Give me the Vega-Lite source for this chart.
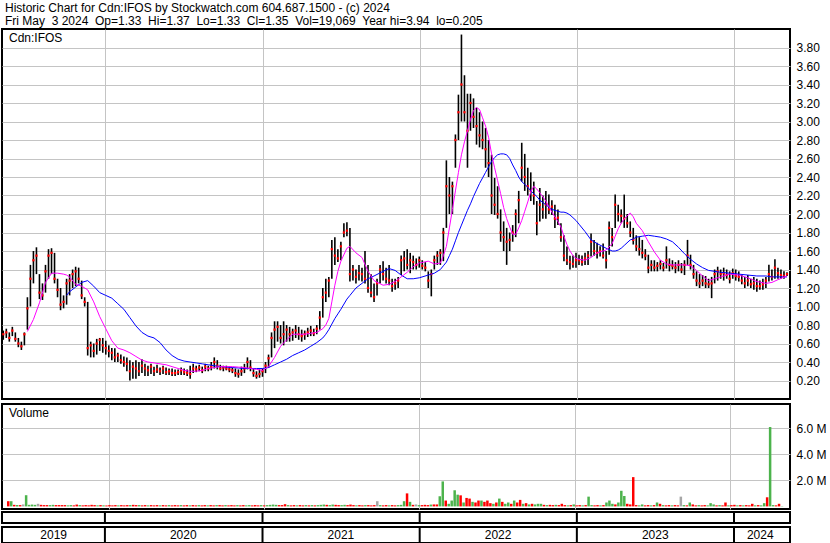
{
"$schema": "https://vega.github.io/schema/vega-lite/v6.json",
"background": "white",
"padding": {"left": 1, "top": 2, "right": 0, "bottom": 0},
"spacing": 3,
"title": {"text": "Historic Chart for Cdn:IFOS by Stockwatch.com 604.687.1500 - (c) 2024", "subtitle": "Fri May\u00a0\u00a03 2024\u00a0\u00a0Op=1.33\u00a0\u00a0Hi=1.37\u00a0\u00a0Lo=1.33\u00a0\u00a0Cl=1.35\u00a0\u00a0Vol=19,069\u00a0\u00a0Year hi=3.94\u00a0\u00a0lo=0.205", "anchor": "start", "frame": "group", "offset": 0, "dx": 3, "subtitlePadding": 1},
"datasets": {
"w": [
{"d":"2019-05-10","h":0.74,"l":0.64,"c":0.70,"v":0.4,"s":"d"},
{"d":"2019-05-17","h":0.76,"l":0.66,"c":0.72,"v":0.4,"s":"u"},
{"d":"2019-05-24","h":0.72,"l":0.62,"c":0.66,"v":0.12,"s":"d"},
{"d":"2019-05-31","h":0.78,"l":0.68,"c":0.74,"v":0.1,"s":"u"},
{"d":"2019-06-07","h":0.72,"l":0.62,"c":0.65,"v":0.1,"s":"d"},
{"d":"2019-06-14","h":0.66,"l":0.56,"c":0.60,"v":0.15,"s":"n"},
{"d":"2019-06-21","h":0.62,"l":0.53,"c":0.57,"v":0.86,"s":"u"},
{"d":"2019-06-28","h":0.72,"l":0.58,"c":0.70,"v":0.12,"s":"u"},
{"d":"2019-07-05","h":1.10,"l":0.75,"c":0.98,"v":0.14,"s":"u"},
{"d":"2019-07-12","h":1.45,"l":1.00,"c":1.30,"v":0.12,"s":"u"},
{"d":"2019-07-19","h":1.60,"l":1.25,"c":1.50,"v":0.2,"s":"n"},
{"d":"2019-07-26","h":1.64,"l":1.35,"c":1.55,"v":0.12,"s":"d"},
{"d":"2019-08-02","h":1.35,"l":1.08,"c":1.15,"v":0.1,"s":"d"},
{"d":"2019-08-09","h":1.25,"l":1.07,"c":1.12,"v":0.1,"s":"d"},
{"d":"2019-08-16","h":1.45,"l":1.15,"c":1.38,"v":0.1,"s":"u"},
{"d":"2019-08-23","h":1.62,"l":1.30,"c":1.55,"v":0.12,"s":"u"},
{"d":"2019-08-30","h":1.63,"l":1.35,"c":1.58,"v":0.1,"s":"d"},
{"d":"2019-09-06","h":1.58,"l":1.25,"c":1.30,"v":0.1,"s":"d"},
{"d":"2019-09-13","h":1.30,"l":1.10,"c":1.18,"v":0.1,"s":"d"},
{"d":"2019-09-20","h":1.20,"l":0.96,"c":1.02,"v":0.1,"s":"d"},
{"d":"2019-09-27","h":1.12,"l":0.98,"c":1.05,"v":0.08,"s":"u"},
{"d":"2019-10-04","h":1.30,"l":1.02,"c":1.25,"v":0.1,"s":"u"},
{"d":"2019-10-11","h":1.35,"l":1.12,"c":1.28,"v":0.08,"s":"d"},
{"d":"2019-10-18","h":1.40,"l":1.20,"c":1.35,"v":0.14,"s":"d"},
{"d":"2019-10-25","h":1.43,"l":1.22,"c":1.38,"v":0.1,"s":"u"},
{"d":"2019-11-01","h":1.42,"l":1.25,"c":1.30,"v":0.08,"s":"d"},
{"d":"2019-11-08","h":1.28,"l":1.08,"c":1.12,"v":0.1,"s":"d"},
{"d":"2019-11-15","h":1.10,"l":1.00,"c":1.05,"v":0.08,"s":"d"},
{"d":"2019-11-22","h":1.05,"l":0.47,"c":0.55,"v":0.12,"s":"d"},
{"d":"2019-11-29","h":0.62,"l":0.45,"c":0.58,"v":0.1,"s":"d"},
{"d":"2019-12-06","h":0.60,"l":0.45,"c":0.52,"v":0.08,"s":"u"},
{"d":"2019-12-13","h":0.65,"l":0.48,"c":0.60,"v":0.1,"s":"d"},
{"d":"2019-12-20","h":0.66,"l":0.52,"c":0.64,"v":0.08,"s":"u"},
{"d":"2019-12-27","h":0.66,"l":0.50,"c":0.58,"v":0.07,"s":"d"},
{"d":"2020-01-03","h":0.63,"l":0.48,"c":0.55,"v":0.1,"s":"d"},
{"d":"2020-01-10","h":0.58,"l":0.45,"c":0.52,"v":0.08,"s":"d"},
{"d":"2020-01-17","h":0.55,"l":0.42,"c":0.50,"v":0.1,"s":"d"},
{"d":"2020-01-24","h":0.55,"l":0.40,"c":0.45,"v":0.08,"s":"u"},
{"d":"2020-01-31","h":0.50,"l":0.40,"c":0.47,"v":0.1,"s":"d"},
{"d":"2020-02-07","h":0.48,"l":0.38,"c":0.42,"v":0.08,"s":"d"},
{"d":"2020-02-14","h":0.46,"l":0.35,"c":0.40,"v":0.1,"s":"d"},
{"d":"2020-02-21","h":0.45,"l":0.30,"c":0.38,"v":0.1,"s":"u"},
{"d":"2020-02-28","h":0.42,"l":0.20,"c":0.30,"v":0.12,"s":"d"},
{"d":"2020-03-06","h":0.40,"l":0.22,"c":0.35,"v":0.1,"s":"d"},
{"d":"2020-03-13","h":0.42,"l":0.22,"c":0.33,"v":0.1,"s":"u"},
{"d":"2020-03-20","h":0.40,"l":0.25,"c":0.30,"v":0.08,"s":"d"},
{"d":"2020-03-27","h":0.43,"l":0.28,"c":0.36,"v":0.1,"s":"d"},
{"d":"2020-04-03","h":0.38,"l":0.25,"c":0.33,"v":0.08,"s":"u"},
{"d":"2020-04-10","h":0.36,"l":0.25,"c":0.31,"v":0.1,"s":"d"},
{"d":"2020-04-17","h":0.38,"l":0.27,"c":0.35,"v":0.08,"s":"d"},
{"d":"2020-04-24","h":0.35,"l":0.25,"c":0.30,"v":0.1,"s":"d"},
{"d":"2020-05-01","h":0.37,"l":0.28,"c":0.32,"v":0.08,"s":"u"},
{"d":"2020-05-08","h":0.34,"l":0.26,"c":0.30,"v":0.1,"s":"d"},
{"d":"2020-05-15","h":0.36,"l":0.27,"c":0.33,"v":0.08,"s":"d"},
{"d":"2020-05-22","h":0.34,"l":0.26,"c":0.29,"v":0.1,"s":"u"},
{"d":"2020-05-29","h":0.33,"l":0.26,"c":0.30,"v":0.08,"s":"d"},
{"d":"2020-06-05","h":0.33,"l":0.25,"c":0.28,"v":0.1,"s":"d"},
{"d":"2020-06-12","h":0.32,"l":0.25,"c":0.28,"v":0.08,"s":"d"},
{"d":"2020-06-19","h":0.32,"l":0.26,"c":0.29,"v":0.1,"s":"u"},
{"d":"2020-06-26","h":0.34,"l":0.26,"c":0.31,"v":0.08,"s":"d"},
{"d":"2020-07-03","h":0.33,"l":0.26,"c":0.29,"v":0.1,"s":"d"},
{"d":"2020-07-10","h":0.32,"l":0.25,"c":0.28,"v":0.08,"s":"u"},
{"d":"2020-07-17","h":0.36,"l":0.22,"c":0.27,"v":0.1,"s":"d"},
{"d":"2020-07-24","h":0.38,"l":0.28,"c":0.33,"v":0.08,"s":"d"},
{"d":"2020-07-31","h":0.36,"l":0.29,"c":0.32,"v":0.1,"s":"u"},
{"d":"2020-08-07","h":0.37,"l":0.30,"c":0.34,"v":0.08,"s":"d"},
{"d":"2020-08-14","h":0.35,"l":0.28,"c":0.31,"v":0.1,"s":"d"},
{"d":"2020-08-21","h":0.38,"l":0.30,"c":0.35,"v":0.08,"s":"u"},
{"d":"2020-08-28","h":0.36,"l":0.30,"c":0.33,"v":0.1,"s":"d"},
{"d":"2020-09-04","h":0.40,"l":0.31,"c":0.35,"v":0.08,"s":"d"},
{"d":"2020-09-11","h":0.45,"l":0.33,"c":0.40,"v":0.1,"s":"u"},
{"d":"2020-09-18","h":0.42,"l":0.32,"c":0.36,"v":0.1,"s":"d"},
{"d":"2020-09-25","h":0.37,"l":0.31,"c":0.33,"v":0.08,"s":"d"},
{"d":"2020-10-02","h":0.36,"l":0.30,"c":0.34,"v":0.1,"s":"u"},
{"d":"2020-10-09","h":0.36,"l":0.31,"c":0.33,"v":0.08,"s":"d"},
{"d":"2020-10-16","h":0.35,"l":0.29,"c":0.32,"v":0.1,"s":"d"},
{"d":"2020-10-23","h":0.34,"l":0.28,"c":0.31,"v":0.08,"s":"d"},
{"d":"2020-10-30","h":0.33,"l":0.24,"c":0.28,"v":0.1,"s":"u"},
{"d":"2020-11-06","h":0.32,"l":0.23,"c":0.27,"v":0.08,"s":"d"},
{"d":"2020-11-13","h":0.35,"l":0.25,"c":0.30,"v":0.1,"s":"d"},
{"d":"2020-11-20","h":0.38,"l":0.28,"c":0.33,"v":0.08,"s":"u"},
{"d":"2020-11-27","h":0.45,"l":0.32,"c":0.40,"v":0.1,"s":"u"},
{"d":"2020-12-04","h":0.42,"l":0.30,"c":0.34,"v":0.08,"s":"d"},
{"d":"2020-12-11","h":0.33,"l":0.24,"c":0.28,"v":0.1,"s":"d"},
{"d":"2020-12-18","h":0.30,"l":0.22,"c":0.25,"v":0.08,"s":"d"},
{"d":"2020-12-25","h":0.32,"l":0.23,"c":0.27,"v":0.1,"s":"u"},
{"d":"2021-01-01","h":0.33,"l":0.24,"c":0.30,"v":0.08,"s":"d"},
{"d":"2021-01-08","h":0.40,"l":0.28,"c":0.36,"v":0.1,"s":"u"},
{"d":"2021-01-15","h":0.48,"l":0.34,"c":0.44,"v":0.12,"s":"u"},
{"d":"2021-01-22","h":0.72,"l":0.45,"c":0.66,"v":0.14,"s":"u"},
{"d":"2021-01-29","h":0.84,"l":0.55,"c":0.75,"v":0.12,"s":"u"},
{"d":"2021-02-05","h":0.84,"l":0.62,"c":0.78,"v":0.1,"s":"d"},
{"d":"2021-02-12","h":0.80,"l":0.60,"c":0.66,"v":0.1,"s":"d"},
{"d":"2021-02-19","h":0.84,"l":0.58,"c":0.70,"v":0.17,"s":"d"},
{"d":"2021-02-26","h":0.80,"l":0.62,"c":0.75,"v":0.1,"s":"u"},
{"d":"2021-03-05","h":0.78,"l":0.62,"c":0.70,"v":0.08,"s":"d"},
{"d":"2021-03-12","h":0.76,"l":0.63,"c":0.72,"v":0.1,"s":"d"},
{"d":"2021-03-19","h":0.80,"l":0.66,"c":0.74,"v":0.08,"s":"u"},
{"d":"2021-03-26","h":0.78,"l":0.64,"c":0.70,"v":0.1,"s":"d"},
{"d":"2021-04-02","h":0.75,"l":0.62,"c":0.68,"v":0.08,"s":"d"},
{"d":"2021-04-09","h":0.74,"l":0.64,"c":0.70,"v":0.1,"s":"u"},
{"d":"2021-04-16","h":0.77,"l":0.67,"c":0.72,"v":0.08,"s":"d"},
{"d":"2021-04-23","h":0.79,"l":0.68,"c":0.74,"v":0.1,"s":"u"},
{"d":"2021-04-30","h":0.76,"l":0.68,"c":0.71,"v":0.08,"s":"d"},
{"d":"2021-05-07","h":0.80,"l":0.70,"c":0.76,"v":0.1,"s":"u"},
{"d":"2021-05-14","h":0.95,"l":0.75,"c":0.88,"v":0.12,"s":"u"},
{"d":"2021-05-21","h":1.20,"l":0.88,"c":1.10,"v":0.14,"s":"u"},
{"d":"2021-05-28","h":1.30,"l":1.05,"c":1.15,"v":0.12,"s":"d"},
{"d":"2021-06-04","h":1.32,"l":1.10,"c":1.28,"v":0.1,"s":"u"},
{"d":"2021-06-11","h":1.72,"l":1.30,"c":1.62,"v":0.14,"s":"u"},
{"d":"2021-06-18","h":1.75,"l":1.45,"c":1.55,"v":0.12,"s":"d"},
{"d":"2021-06-25","h":1.62,"l":1.48,"c":1.52,"v":0.1,"s":"d"},
{"d":"2021-07-02","h":1.70,"l":1.50,"c":1.65,"v":0.1,"s":"u"},
{"d":"2021-07-09","h":1.90,"l":1.75,"c":1.80,"v":0.12,"s":"u"},
{"d":"2021-07-16","h":1.91,"l":1.76,"c":1.82,"v":0.1,"s":"d"},
{"d":"2021-07-23","h":1.85,"l":1.27,"c":1.35,"v":0.14,"s":"d"},
{"d":"2021-07-30","h":1.45,"l":1.28,"c":1.40,"v":0.1,"s":"d"},
{"d":"2021-08-06","h":1.40,"l":1.25,"c":1.32,"v":0.08,"s":"u"},
{"d":"2021-08-13","h":1.45,"l":1.28,"c":1.36,"v":0.1,"s":"d"},
{"d":"2021-08-20","h":1.42,"l":1.27,"c":1.35,"v":0.08,"s":"d"},
{"d":"2021-08-27","h":1.60,"l":1.25,"c":1.30,"v":0.1,"s":"u"},
{"d":"2021-09-03","h":1.45,"l":1.15,"c":1.20,"v":0.1,"s":"d"},
{"d":"2021-09-10","h":1.35,"l":1.10,"c":1.15,"v":0.08,"s":"d"},
{"d":"2021-09-17","h":1.25,"l":1.05,"c":1.10,"v":0.1,"s":"d"},
{"d":"2021-09-24","h":1.30,"l":1.12,"c":1.25,"v":0.4,"s":"n"},
{"d":"2021-10-01","h":1.45,"l":1.25,"c":1.40,"v":0.1,"s":"u"},
{"d":"2021-10-08","h":1.49,"l":1.28,"c":1.35,"v":0.08,"s":"d"},
{"d":"2021-10-15","h":1.42,"l":1.25,"c":1.30,"v":0.1,"s":"d"},
{"d":"2021-10-22","h":1.45,"l":1.23,"c":1.28,"v":0.08,"s":"u"},
{"d":"2021-10-29","h":1.30,"l":1.16,"c":1.22,"v":0.1,"s":"d"},
{"d":"2021-11-05","h":1.30,"l":1.18,"c":1.25,"v":0.08,"s":"d"},
{"d":"2021-11-12","h":1.32,"l":1.20,"c":1.28,"v":0.1,"s":"u"},
{"d":"2021-11-19","h":1.55,"l":1.34,"c":1.50,"v":0.12,"s":"u"},
{"d":"2021-11-26","h":1.60,"l":1.38,"c":1.52,"v":0.4,"s":"u"},
{"d":"2021-12-03","h":1.62,"l":1.40,"c":1.45,"v":1.0,"s":"d"},
{"d":"2021-12-10","h":1.58,"l":1.36,"c":1.50,"v":0.35,"s":"u"},
{"d":"2021-12-17","h":1.55,"l":1.40,"c":1.48,"v":0.12,"s":"d"},
{"d":"2021-12-24","h":1.52,"l":1.40,"c":1.45,"v":0.15,"s":"n"},
{"d":"2021-12-31","h":1.54,"l":1.42,"c":1.50,"v":0.1,"s":"u"},
{"d":"2022-01-07","h":1.50,"l":1.40,"c":1.44,"v":0.1,"s":"d"},
{"d":"2022-01-14","h":1.48,"l":1.38,"c":1.42,"v":0.12,"s":"d"},
{"d":"2022-01-21","h":1.38,"l":1.20,"c":1.28,"v":0.1,"s":"d"},
{"d":"2022-01-28","h":1.40,"l":1.11,"c":1.35,"v":0.14,"s":"u"},
{"d":"2022-02-04","h":1.55,"l":1.40,"c":1.50,"v":0.15,"s":"d"},
{"d":"2022-02-11","h":1.60,"l":1.45,"c":1.55,"v":0.15,"s":"d"},
{"d":"2022-02-18","h":1.62,"l":1.45,"c":1.58,"v":0.78,"s":"u"},
{"d":"2022-02-25","h":1.85,"l":1.49,"c":1.80,"v":1.92,"s":"u"},
{"d":"2022-03-04","h":2.58,"l":1.85,"c":2.30,"v":0.45,"s":"d"},
{"d":"2022-03-11","h":2.40,"l":2.00,"c":2.20,"v":0.2,"s":"u"},
{"d":"2022-03-18","h":2.35,"l":2.00,"c":2.30,"v":0.45,"s":"u"},
{"d":"2022-03-25","h":2.86,"l":2.50,"c":2.80,"v":1.24,"s":"u"},
{"d":"2022-04-01","h":3.29,"l":2.80,"c":3.10,"v":0.9,"s":"u"},
{"d":"2022-04-08","h":3.94,"l":3.00,"c":3.40,"v":0.85,"s":"d"},
{"d":"2022-04-15","h":3.50,"l":3.00,"c":3.10,"v":0.3,"s":"u"},
{"d":"2022-04-22","h":3.30,"l":2.50,"c":2.90,"v":0.65,"s":"d"},
{"d":"2022-04-29","h":3.30,"l":2.90,"c":3.20,"v":0.6,"s":"d"},
{"d":"2022-05-06","h":3.25,"l":2.93,"c":3.05,"v":0.35,"s":"u"},
{"d":"2022-05-13","h":3.15,"l":2.75,"c":2.95,"v":0.3,"s":"d"},
{"d":"2022-05-20","h":3.10,"l":2.72,"c":2.85,"v":0.45,"s":"d"},
{"d":"2022-05-27","h":3.00,"l":2.70,"c":2.80,"v":0.45,"s":"u"},
{"d":"2022-06-03","h":2.93,"l":2.50,"c":2.70,"v":0.35,"s":"d"},
{"d":"2022-06-10","h":2.80,"l":2.40,"c":2.55,"v":0.45,"s":"d"},
{"d":"2022-06-17","h":2.64,"l":2.00,"c":2.20,"v":0.25,"s":"d"},
{"d":"2022-06-24","h":2.39,"l":1.99,"c":2.10,"v":0.2,"s":"u"},
{"d":"2022-07-01","h":2.30,"l":1.95,"c":2.00,"v":0.3,"s":"d"},
{"d":"2022-07-08","h":2.05,"l":1.70,"c":1.80,"v":0.6,"s":"u"},
{"d":"2022-07-15","h":1.92,"l":1.60,"c":1.75,"v":0.35,"s":"d"},
{"d":"2022-07-22","h":1.85,"l":1.45,"c":1.70,"v":0.2,"s":"u"},
{"d":"2022-07-29","h":1.80,"l":1.60,"c":1.72,"v":0.3,"s":"u"},
{"d":"2022-08-05","h":1.88,"l":1.70,"c":1.80,"v":0.2,"s":"d"},
{"d":"2022-08-12","h":2.05,"l":1.75,"c":2.00,"v":0.45,"s":"u"},
{"d":"2022-08-19","h":2.25,"l":1.90,"c":2.15,"v":0.3,"s":"d"},
{"d":"2022-08-26","h":2.77,"l":2.35,"c":2.50,"v":0.5,"s":"d"},
{"d":"2022-09-02","h":2.65,"l":2.25,"c":2.40,"v":0.2,"s":"u"},
{"d":"2022-09-09","h":2.50,"l":2.20,"c":2.30,"v":0.25,"s":"d"},
{"d":"2022-09-16","h":2.45,"l":2.14,"c":2.25,"v":0.15,"s":"u"},
{"d":"2022-09-23","h":2.35,"l":2.10,"c":2.20,"v":0.2,"s":"d"},
{"d":"2022-09-30","h":2.14,"l":1.77,"c":1.90,"v":0.15,"s":"u"},
{"d":"2022-10-07","h":2.28,"l":1.92,"c":2.10,"v":0.2,"s":"u"},
{"d":"2022-10-14","h":2.20,"l":1.95,"c":2.05,"v":0.2,"s":"u"},
{"d":"2022-10-21","h":2.25,"l":1.95,"c":2.10,"v":0.12,"s":"d"},
{"d":"2022-10-28","h":2.21,"l":2.00,"c":2.05,"v":0.1,"s":"u"},
{"d":"2022-11-04","h":2.15,"l":1.99,"c":2.08,"v":0.12,"s":"d"},
{"d":"2022-11-11","h":2.10,"l":1.85,"c":1.95,"v":0.1,"s":"d"},
{"d":"2022-11-18","h":2.05,"l":1.88,"c":1.96,"v":0.12,"s":"u"},
{"d":"2022-11-25","h":1.90,"l":1.70,"c":1.75,"v":0.1,"s":"d"},
{"d":"2022-12-02","h":1.77,"l":1.49,"c":1.55,"v":0.2,"s":"d"},
{"d":"2022-12-09","h":1.65,"l":1.45,"c":1.50,"v":0.1,"s":"d"},
{"d":"2022-12-16","h":1.55,"l":1.40,"c":1.48,"v":0.08,"s":"u"},
{"d":"2022-12-23","h":1.55,"l":1.42,"c":1.46,"v":0.1,"s":"d"},
{"d":"2022-12-30","h":1.58,"l":1.42,"c":1.50,"v":0.15,"s":"u"},
{"d":"2023-01-06","h":1.56,"l":1.45,"c":1.50,"v":0.08,"s":"d"},
{"d":"2023-01-13","h":1.55,"l":1.44,"c":1.48,"v":0.1,"s":"d"},
{"d":"2023-01-20","h":1.58,"l":1.45,"c":1.52,"v":0.08,"s":"u"},
{"d":"2023-01-27","h":1.60,"l":1.45,"c":1.55,"v":0.1,"s":"d"},
{"d":"2023-02-03","h":1.79,"l":1.54,"c":1.70,"v":0.75,"s":"u"},
{"d":"2023-02-10","h":1.72,"l":1.55,"c":1.60,"v":0.1,"s":"u"},
{"d":"2023-02-17","h":1.69,"l":1.52,"c":1.58,"v":0.08,"s":"d"},
{"d":"2023-02-24","h":1.65,"l":1.54,"c":1.60,"v":0.1,"s":"d"},
{"d":"2023-03-03","h":1.68,"l":1.52,"c":1.55,"v":0.08,"s":"u"},
{"d":"2023-03-10","h":1.60,"l":1.41,"c":1.50,"v":0.1,"s":"d"},
{"d":"2023-03-17","h":1.92,"l":1.56,"c":1.85,"v":0.3,"s":"u"},
{"d":"2023-03-24","h":1.85,"l":1.65,"c":1.75,"v":0.45,"s":"u"},
{"d":"2023-03-31","h":2.21,"l":1.85,"c":2.10,"v":0.2,"s":"u"},
{"d":"2023-04-07","h":2.10,"l":1.92,"c":2.00,"v":0.15,"s":"d"},
{"d":"2023-04-14","h":2.05,"l":1.90,"c":1.98,"v":0.3,"s":"u"},
{"d":"2023-04-21","h":2.21,"l":1.85,"c":1.95,"v":1.2,"s":"u"},
{"d":"2023-04-28","h":2.00,"l":1.85,"c":1.90,"v":0.8,"s":"u"},
{"d":"2023-05-05","h":1.92,"l":1.75,"c":1.80,"v":0.2,"s":"d"},
{"d":"2023-05-12","h":1.85,"l":1.67,"c":1.72,"v":0.15,"s":"d"},
{"d":"2023-05-19","h":1.77,"l":1.60,"c":1.65,"v":2.25,"s":"d"},
{"d":"2023-05-26","h":1.75,"l":1.55,"c":1.62,"v":0.1,"s":"d"},
{"d":"2023-06-02","h":1.72,"l":1.52,"c":1.58,"v":0.08,"s":"u"},
{"d":"2023-06-09","h":1.62,"l":1.50,"c":1.55,"v":0.15,"s":"u"},
{"d":"2023-06-16","h":1.56,"l":1.36,"c":1.42,"v":0.08,"s":"d"},
{"d":"2023-06-23","h":1.50,"l":1.38,"c":1.45,"v":0.1,"s":"d"},
{"d":"2023-06-30","h":1.50,"l":1.38,"c":1.42,"v":0.08,"s":"u"},
{"d":"2023-07-07","h":1.48,"l":1.38,"c":1.44,"v":0.1,"s":"d"},
{"d":"2023-07-14","h":1.50,"l":1.40,"c":1.46,"v":0.3,"s":"u"},
{"d":"2023-07-21","h":1.47,"l":1.38,"c":1.42,"v":0.2,"s":"d"},
{"d":"2023-07-28","h":1.65,"l":1.41,"c":1.50,"v":0.1,"s":"u"},
{"d":"2023-08-04","h":1.52,"l":1.38,"c":1.45,"v":0.08,"s":"d"},
{"d":"2023-08-11","h":1.50,"l":1.40,"c":1.44,"v":0.1,"s":"d"},
{"d":"2023-08-18","h":1.48,"l":1.36,"c":1.42,"v":0.08,"s":"u"},
{"d":"2023-08-25","h":1.50,"l":1.38,"c":1.45,"v":0.1,"s":"d"},
{"d":"2023-09-01","h":1.47,"l":1.36,"c":1.40,"v":0.08,"s":"d"},
{"d":"2023-09-08","h":1.50,"l":1.34,"c":1.45,"v":0.75,"s":"n"},
{"d":"2023-09-15","h":1.72,"l":1.45,"c":1.55,"v":0.1,"s":"u"},
{"d":"2023-09-22","h":1.56,"l":1.40,"c":1.45,"v":0.08,"s":"d"},
{"d":"2023-09-29","h":1.45,"l":1.30,"c":1.35,"v":0.3,"s":"u"},
{"d":"2023-10-06","h":1.38,"l":1.22,"c":1.28,"v":0.15,"s":"d"},
{"d":"2023-10-13","h":1.35,"l":1.20,"c":1.25,"v":0.08,"s":"d"},
{"d":"2023-10-20","h":1.34,"l":1.22,"c":1.28,"v":0.1,"s":"u"},
{"d":"2023-10-27","h":1.33,"l":1.20,"c":1.25,"v":0.08,"s":"d"},
{"d":"2023-11-03","h":1.30,"l":1.20,"c":1.24,"v":0.1,"s":"d"},
{"d":"2023-11-10","h":1.32,"l":1.09,"c":1.25,"v":0.08,"s":"u"},
{"d":"2023-11-17","h":1.40,"l":1.25,"c":1.35,"v":0.25,"s":"u"},
{"d":"2023-11-24","h":1.43,"l":1.28,"c":1.38,"v":0.15,"s":"u"},
{"d":"2023-12-01","h":1.40,"l":1.30,"c":1.35,"v":0.08,"s":"d"},
{"d":"2023-12-08","h":1.42,"l":1.28,"c":1.36,"v":0.1,"s":"u"},
{"d":"2023-12-15","h":1.40,"l":1.30,"c":1.34,"v":0.08,"s":"d"},
{"d":"2023-12-22","h":1.38,"l":1.25,"c":1.30,"v":0.3,"s":"d"},
{"d":"2023-12-29","h":1.41,"l":1.30,"c":1.36,"v":0.08,"s":"u"},
{"d":"2024-01-05","h":1.40,"l":1.28,"c":1.33,"v":0.1,"s":"d"},
{"d":"2024-01-12","h":1.38,"l":1.27,"c":1.32,"v":0.12,"s":"d"},
{"d":"2024-01-19","h":1.34,"l":1.24,"c":1.28,"v":0.08,"s":"u"},
{"d":"2024-01-26","h":1.32,"l":1.20,"c":1.25,"v":0.1,"s":"d"},
{"d":"2024-02-02","h":1.34,"l":1.22,"c":1.28,"v":0.08,"s":"u"},
{"d":"2024-02-09","h":1.30,"l":1.20,"c":1.24,"v":0.1,"s":"d"},
{"d":"2024-02-16","h":1.32,"l":1.18,"c":1.25,"v":0.08,"s":"d"},
{"d":"2024-02-23","h":1.30,"l":1.16,"c":1.22,"v":0.2,"s":"d"},
{"d":"2024-03-01","h":1.28,"l":1.18,"c":1.22,"v":0.08,"s":"u"},
{"d":"2024-03-08","h":1.30,"l":1.18,"c":1.24,"v":0.1,"s":"d"},
{"d":"2024-03-15","h":1.32,"l":1.20,"c":1.28,"v":0.08,"s":"u"},
{"d":"2024-03-22","h":1.45,"l":1.27,"c":1.35,"v":0.25,"s":"u"},
{"d":"2024-03-29","h":1.40,"l":1.28,"c":1.32,"v":0.7,"s":"d"},
{"d":"2024-04-05","h":1.51,"l":1.30,"c":1.42,"v":6.1,"s":"u"},
{"d":"2024-04-12","h":1.42,"l":1.30,"c":1.36,"v":0.1,"s":"u"},
{"d":"2024-04-19","h":1.40,"l":1.30,"c":1.34,"v":0.08,"s":"d"},
{"d":"2024-04-26","h":1.38,"l":1.30,"c":1.33,"v":0.2,"s":"d"},
{"d":"2024-05-03","h":1.37,"l":1.33,"c":1.35,"v":0.02,"s":"u"}
],
"ma": [
{"d":"2019-07-05","m":0.73},
{"d":"2019-07-19","m":0.86},
{"d":"2019-08-02","m":1.04},
{"d":"2019-08-16","m":1.26},
{"d":"2019-08-30","m":1.36},
{"d":"2019-09-13","m":1.36},
{"d":"2019-09-27","m":1.35},
{"d":"2019-10-04","m":1.34,"b":1.12},
{"d":"2019-10-11","m":1.32,"b":1.16},
{"d":"2019-10-25","m":1.24,"b":1.21},
{"d":"2019-11-08","m":1.22,"b":1.26},
{"d":"2019-11-22","m":1.18,"b":1.28},
{"d":"2019-12-06","m":1.05,"b":1.22},
{"d":"2019-12-20","m":0.89,"b":1.15},
{"d":"2020-01-03","m":0.76,"b":1.12},
{"d":"2020-01-17","m":0.63,"b":1.09},
{"d":"2020-01-31","m":0.55,"b":1.03},
{"d":"2020-02-14","m":0.53,"b":0.97},
{"d":"2020-02-28","m":0.50,"b":0.88},
{"d":"2020-03-13","m":0.46,"b":0.79},
{"d":"2020-03-27","m":0.42,"b":0.72},
{"d":"2020-04-10","m":0.40,"b":0.68},
{"d":"2020-04-24","m":0.39,"b":0.66},
{"d":"2020-05-08","m":0.38,"b":0.61},
{"d":"2020-05-22","m":0.37,"b":0.53},
{"d":"2020-06-05","m":0.35,"b":0.47},
{"d":"2020-06-19","m":0.33,"b":0.43},
{"d":"2020-07-03","m":0.31,"b":0.41},
{"d":"2020-07-17","m":0.30,"b":0.40},
{"d":"2020-07-31","m":0.30,"b":0.39},
{"d":"2020-08-14","m":0.31,"b":0.38},
{"d":"2020-08-28","m":0.33,"b":0.37},
{"d":"2020-09-11","m":0.34,"b":0.36},
{"d":"2020-09-25","m":0.35,"b":0.35},
{"d":"2020-10-09","m":0.35,"b":0.345},
{"d":"2020-10-23","m":0.35,"b":0.34},
{"d":"2020-11-06","m":0.345,"b":0.335},
{"d":"2020-11-20","m":0.34,"b":0.33},
{"d":"2020-12-04","m":0.33,"b":0.33},
{"d":"2020-12-18","m":0.32,"b":0.33},
{"d":"2021-01-01","m":0.31,"b":0.33},
{"d":"2021-01-15","m":0.35,"b":0.34},
{"d":"2021-01-29","m":0.45,"b":0.37},
{"d":"2021-02-12","m":0.57,"b":0.40},
{"d":"2021-02-26","m":0.64,"b":0.43},
{"d":"2021-03-12","m":0.70,"b":0.47},
{"d":"2021-03-26","m":0.70,"b":0.50},
{"d":"2021-04-09","m":0.70,"b":0.53},
{"d":"2021-04-23","m":0.71,"b":0.57},
{"d":"2021-05-07","m":0.72,"b":0.61},
{"d":"2021-05-21","m":0.76,"b":0.66},
{"d":"2021-05-28","m":0.80,"b":0.70},
{"d":"2021-06-04","m":0.87,"b":0.75},
{"d":"2021-06-11","m":1.05,"b":0.81},
{"d":"2021-06-18","m":1.23,"b":0.87},
{"d":"2021-06-25","m":1.38,"b":0.92},
{"d":"2021-07-02","m":1.49,"b":0.97},
{"d":"2021-07-16","m":1.63,"b":1.08},
{"d":"2021-07-23","m":1.65,"b":1.12},
{"d":"2021-08-06","m":1.58,"b":1.20},
{"d":"2021-08-20","m":1.53,"b":1.25},
{"d":"2021-09-03","m":1.38,"b":1.30},
{"d":"2021-09-17","m":1.28,"b":1.33},
{"d":"2021-10-08","m":1.23,"b":1.38},
{"d":"2021-10-22","m":1.24,"b":1.41},
{"d":"2021-11-05","m":1.27,"b":1.39},
{"d":"2021-11-19","m":1.32,"b":1.34},
{"d":"2021-12-03","m":1.37,"b":1.30},
{"d":"2021-12-17","m":1.43,"b":1.30},
{"d":"2021-12-31","m":1.47,"b":1.31},
{"d":"2022-01-21","m":1.49,"b":1.34},
{"d":"2022-02-04","m":1.46,"b":1.36},
{"d":"2022-02-18","m":1.47,"b":1.40},
{"d":"2022-02-25","m":1.55,"b":1.44},
{"d":"2022-03-04","m":1.65,"b":1.48},
{"d":"2022-03-11","m":1.85,"b":1.55},
{"d":"2022-03-18","m":2.05,"b":1.62},
{"d":"2022-03-25","m":2.25,"b":1.71},
{"d":"2022-04-01","m":2.45,"b":1.80},
{"d":"2022-04-08","m":2.64,"b":1.88},
{"d":"2022-04-15","m":2.78,"b":1.96},
{"d":"2022-04-22","m":2.90,"b":2.04},
{"d":"2022-04-29","m":3.02,"b":2.11},
{"d":"2022-05-06","m":3.12,"b":2.19},
{"d":"2022-05-13","m":3.15,"b":2.26},
{"d":"2022-05-20","m":3.13,"b":2.33},
{"d":"2022-05-27","m":3.04,"b":2.39},
{"d":"2022-06-03","m":2.95,"b":2.45},
{"d":"2022-06-10","m":2.83,"b":2.51},
{"d":"2022-06-17","m":2.65,"b":2.57},
{"d":"2022-06-24","m":2.50,"b":2.61},
{"d":"2022-07-01","m":2.36,"b":2.64},
{"d":"2022-07-08","m":2.22,"b":2.65},
{"d":"2022-07-15","m":2.07,"b":2.65},
{"d":"2022-07-22","m":1.95,"b":2.64},
{"d":"2022-07-29","m":1.86,"b":2.60},
{"d":"2022-08-05","m":1.78,"b":2.53},
{"d":"2022-08-12","m":1.78,"b":2.47},
{"d":"2022-08-19","m":1.85,"b":2.40},
{"d":"2022-08-26","m":1.93,"b":2.35},
{"d":"2022-09-02","m":2.03,"b":2.32},
{"d":"2022-09-09","m":2.13,"b":2.29},
{"d":"2022-09-16","m":2.24,"b":2.25},
{"d":"2022-09-23","m":2.30,"b":2.22},
{"d":"2022-09-30","m":2.27,"b":2.19},
{"d":"2022-10-07","m":2.23,"b":2.15},
{"d":"2022-10-21","m":2.14,"b":2.10},
{"d":"2022-11-04","m":2.02,"b":2.05},
{"d":"2022-11-18","m":1.92,"b":2.03},
{"d":"2022-11-25","m":1.86,"b":2.02},
{"d":"2022-12-02","m":1.76,"b":2.02},
{"d":"2022-12-09","m":1.67,"b":2.01},
{"d":"2022-12-16","m":1.60,"b":1.99},
{"d":"2022-12-23","m":1.55,"b":1.96},
{"d":"2022-12-30","m":1.52,"b":1.93},
{"d":"2023-01-06","m":1.51,"b":1.89},
{"d":"2023-01-20","m":1.50,"b":1.81},
{"d":"2023-02-03","m":1.53,"b":1.72},
{"d":"2023-02-17","m":1.58,"b":1.68},
{"d":"2023-03-10","m":1.61,"b":1.63},
{"d":"2023-03-24","m":1.68,"b":1.60},
{"d":"2023-03-31","m":1.76,"b":1.60},
{"d":"2023-04-07","m":1.84,"b":1.61},
{"d":"2023-04-14","m":1.90,"b":1.63},
{"d":"2023-04-21","m":1.95,"b":1.66},
{"d":"2023-05-05","m":2.01,"b":1.72},
{"d":"2023-05-12","m":1.97,"b":1.73},
{"d":"2023-05-19","m":1.90,"b":1.75},
{"d":"2023-06-02","m":1.82,"b":1.76},
{"d":"2023-06-16","m":1.70,"b":1.77},
{"d":"2023-06-30","m":1.59,"b":1.76},
{"d":"2023-07-14","m":1.50,"b":1.75},
{"d":"2023-07-28","m":1.46,"b":1.73},
{"d":"2023-08-11","m":1.45,"b":1.70},
{"d":"2023-08-25","m":1.45,"b":1.64},
{"d":"2023-09-08","m":1.45,"b":1.57},
{"d":"2023-09-22","m":1.44,"b":1.51},
{"d":"2023-10-06","m":1.39,"b":1.46},
{"d":"2023-10-20","m":1.33,"b":1.42},
{"d":"2023-11-03","m":1.28,"b":1.39},
{"d":"2023-11-17","m":1.30,"b":1.38},
{"d":"2023-12-01","m":1.32,"b":1.37},
{"d":"2023-12-22","m":1.35,"b":1.36},
{"d":"2024-01-12","m":1.34,"b":1.35},
{"d":"2024-02-02","m":1.31,"b":1.34},
{"d":"2024-02-23","m":1.27,"b":1.33},
{"d":"2024-03-15","m":1.25,"b":1.33},
{"d":"2024-03-29","m":1.26,"b":1.32},
{"d":"2024-04-12","m":1.29,"b":1.32},
{"d":"2024-05-03","m":1.33,"b":1.32}
],
"yb": [{"d":"2020-01-01"},{"d":"2021-01-01"},{"d":"2022-01-01"},{"d":"2023-01-01"},{"d":"2024-01-01"}],
"yl": [{"y":"2019","d":"2019-09-04","p":0.5},{"y":"2020","d":"2020-07-01","p":0.5},{"y":"2021","d":"2021-07-02","p":0.5},{"y":"2022","d":"2022-07-02","p":0.5},{"y":"2023","d":"2023-07-02","p":0.5},{"y":"2024","d":"2024-03-02","p":0.5}],
"blank": [{"k": 1}]
},
"resolve": {"scale": {"x": "independent", "y": "independent", "color": "independent"}},
"vconcat": [
{
"hconcat": [
{
"width": 788, "height": 370,
"title": {"text": "Cdn:IFOS", "offset": -16, "dx": 7},
"encoding": {"x": {"field": "d", "type": "temporal", "title": null,
  "scale": {"type": "utc", "domain": [{"year": 2019, "month": 5, "date": 7, "utc": true}, {"year": 2024, "month": 5, "date": 10, "utc": true}]},
  "axis": {"labels": false, "ticks": false, "domain": false, "grid": true, "title": null,
    "values": [{"year": 2020, "month": 1, "date": 1, "utc": true}, {"year": 2021, "month": 1, "date": 1, "utc": true}, {"year": 2022, "month": 1, "date": 1, "utc": true}, {"year": 2023, "month": 1, "date": 1, "utc": true}, {"year": 2024, "month": 1, "date": 1, "utc": true}]}}},
"layer": [
{"data": {"name": "w"}, "mark": {"type": "rule", "color": "#000000", "strokeWidth": 1.6},
 "encoding": {"y": {"field": "l", "type": "quantitative", "title": null, "scale": {"domain": [0, 4], "nice": false, "zero": false},
   "axis": {"orient": "right", "grid": true, "labelOverlap": false, "labelFlush": false, "values": [0.2,0.4,0.6,0.8,1.0,1.2,1.4,1.6,1.8,2.0,2.2,2.4,2.6,2.8,3.0,3.2,3.4,3.6,3.8], "format": ".2f", "title": null}},
  "y2": {"field": "h"}}},
{"data": {"name": "w"}, "mark": {"type": "square", "color": "#FF0000", "size": 5, "opacity": 1},
 "encoding": {"y": {"field": "c", "type": "quantitative", "title": null,
   "axis": {"orient": "right", "grid": true, "labelOverlap": false, "labelFlush": false, "values": [0.2,0.4,0.6,0.8,1.0,1.2,1.4,1.6,1.8,2.0,2.2,2.4,2.6,2.8,3.0,3.2,3.4,3.6,3.8], "format": ".2f", "title": null}}}},
{"data": {"name": "ma"}, "transform": [{"filter": "isValid(datum.b)"}], "mark": {"type": "line", "color": "#0000FF", "strokeWidth": 1},
 "encoding": {"y": {"field": "b", "type": "quantitative", "title": null,
   "axis": {"orient": "right", "grid": true, "labelOverlap": false, "labelFlush": false, "values": [0.2,0.4,0.6,0.8,1.0,1.2,1.4,1.6,1.8,2.0,2.2,2.4,2.6,2.8,3.0,3.2,3.4,3.6,3.8], "format": ".2f", "title": null}}}},
{"data": {"name": "ma"}, "transform": [{"filter": "isValid(datum.m)"}], "mark": {"type": "line", "color": "#FF00FF", "strokeWidth": 1},
 "encoding": {"y": {"field": "m", "type": "quantitative", "title": null,
   "axis": {"orient": "right", "grid": true, "labelOverlap": false, "labelFlush": false, "values": [0.2,0.4,0.6,0.8,1.0,1.2,1.4,1.6,1.8,2.0,2.2,2.4,2.6,2.8,3.0,3.2,3.4,3.6,3.8], "format": ".2f", "title": null}}}}
]
},
{
"width": 40, "height": 370,
"data": {"name": "blank"},
"mark": {"type": "point", "opacity": 0},
"encoding": {}
}
],
"spacing": 0,
"bounds": "flush",
"resolve": {"scale": {"x": "independent", "y": "independent"}}
},
{
"hconcat": [
{
"vconcat": [
{
"width": 788, "height": 105,
"title": {"text": "Volume", "offset": -16, "dx": 7},
"data": {"name": "w"},
"mark": {"type": "bar", "width": 2.5},
"encoding": {
 "x": {"field": "d", "type": "temporal", "title": null,
  "scale": {"type": "utc", "domain": [{"year": 2019, "month": 5, "date": 7, "utc": true}, {"year": 2024, "month": 5, "date": 10, "utc": true}]},
  "axis": {"labels": false, "ticks": false, "domain": false, "grid": true, "title": null,
    "values": [{"year": 2020, "month": 1, "date": 1, "utc": true}, {"year": 2021, "month": 1, "date": 1, "utc": true}, {"year": 2022, "month": 1, "date": 1, "utc": true}, {"year": 2023, "month": 1, "date": 1, "utc": true}, {"year": 2024, "month": 1, "date": 1, "utc": true}]}},
 "y": {"field": "v", "type": "quantitative", "title": null, "scale": {"domain": [-0.2, 7.87], "nice": false, "zero": false},
   "axis": {"orient": "right", "grid": true, "labelOverlap": false, "values": [2, 4, 6], "labelExpr": "format(datum.value, '.1f') + ' M'", "title": null}},
 "color": {"field": "s", "type": "nominal", "legend": null, "scale": {"domain": ["u", "d", "n"], "range": ["#4CB34C", "#FF0000", "#A6A6A6"]}}
}
},
{
"width": 788, "height": 11,
"data": {"name": "yb"},
"mark": {"type": "rule", "color": "#000000", "strokeWidth": 2},
"encoding": {"x": {"field": "d", "type": "temporal", "axis": null,
  "scale": {"type": "utc", "domain": [{"year": 2019, "month": 5, "date": 7, "utc": true}, {"year": 2024, "month": 5, "date": 10, "utc": true}]}}}
},
{
"width": 788, "height": 16,
"encoding": {"x": {"field": "d", "type": "temporal", "axis": null,
  "scale": {"type": "utc", "domain": [{"year": 2019, "month": 5, "date": 7, "utc": true}, {"year": 2024, "month": 5, "date": 10, "utc": true}]}}},
"layer": [
{"data": {"name": "yb"}, "mark": {"type": "rule", "color": "#000000", "strokeWidth": 2}},
{"data": {"name": "yl"}, "mark": {"type": "text", "fontSize": 12, "font": "Liberation Sans", "color": "#000000", "baseline": "middle"},
 "encoding": {"text": {"field": "y"}, "y": {"field": "p", "type": "quantitative", "axis": null, "scale": {"domain": [0, 1]}}}}
]
}
],
"spacing": 0,
"resolve": {"scale": {"x": "independent", "y": "independent", "color": "independent"}}
},
{
"width": 40, "height": 138,
"data": {"name": "blank"},
"mark": {"type": "point", "opacity": 0},
"encoding": {}
}
],
"spacing": 0,
"bounds": "flush",
"resolve": {"scale": {"x": "independent", "y": "independent"}}
}
],
"config": {
 "view": {"stroke": "#000000", "strokeWidth": 2},
 "font": "Liberation Sans",
 "axis": {"labelFont": "Liberation Sans", "labelFontSize": 12, "labelColor": "#000000", "gridColor": "#C4C4C4", "gridOpacity": 1, "gridWidth": 1, "ticks": false, "domain": false, "labelPadding": 6, "labelOverlap": false},
 "title": {"font": "Liberation Sans", "fontSize": 12, "fontWeight": "normal", "color": "#000000", "anchor": "start", "subtitleFont": "Liberation Sans", "subtitleFontSize": 12, "subtitleColor": "#000000"}
}
}
